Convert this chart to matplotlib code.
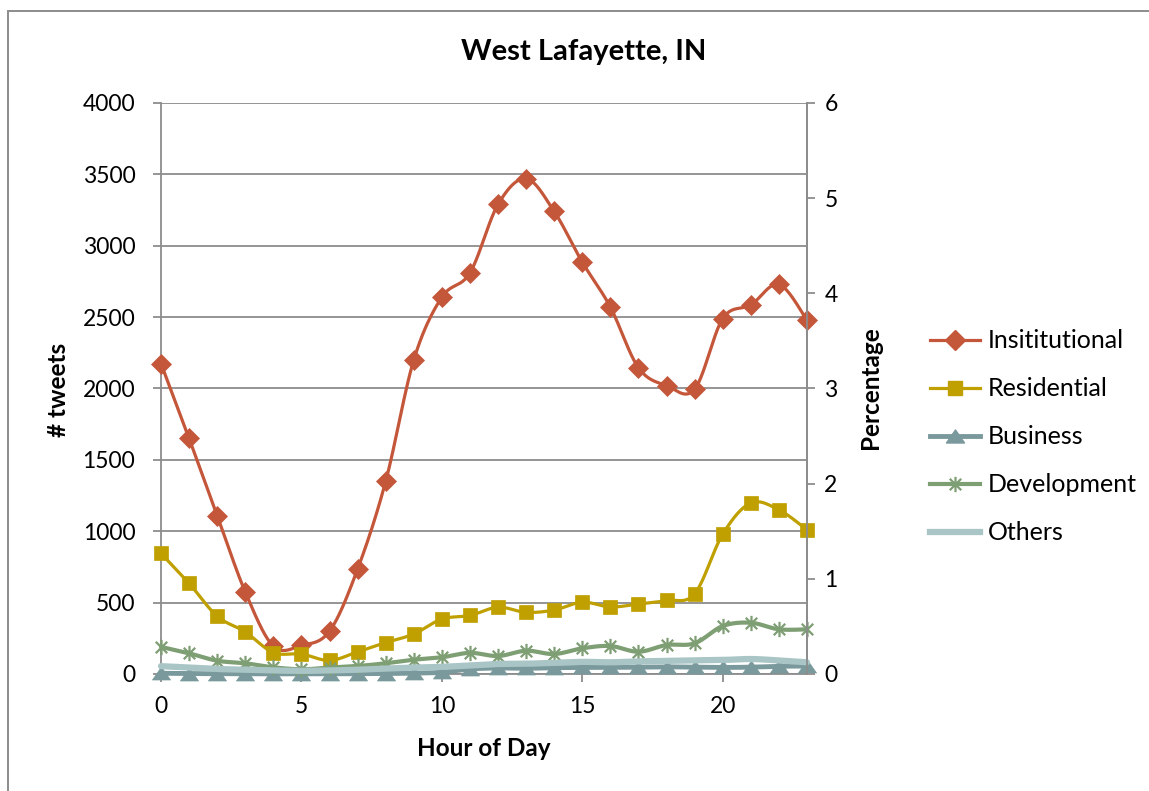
import numpy as np
import matplotlib
matplotlib.use("Agg")
import matplotlib.pyplot as plt
from matplotlib.lines import Line2D
from matplotlib.path import Path
from matplotlib.patches import Rectangle

plt.rcParams['font.family'] = ['Lato', 'DejaVu Sans']

# ---- data -------------------------------------------------------------
hours = list(range(24))
institutional = [2175, 1650, 1110, 575, 195, 200, 300, 735, 1350, 2200, 2640, 2810,
                 3290, 3470, 3240, 2885, 2570, 2145, 2020, 1995, 2490, 2585, 2730, 2480]
residential = [845, 635, 405, 295, 150, 140, 95, 155, 220, 280, 385, 410,
               468, 432, 448, 503, 470, 490, 515, 562, 980, 1198, 1150, 1010]
business = [5, 3, 2, 1, 1, 1, 1, 2, 3, 6, 12, 35,
            42, 40, 44, 46, 46, 48, 50, 48, 46, 48, 54, 56]
development = [190, 145, 93, 75, 47, 33, 45, 56, 75, 100, 117, 148,
               126, 163, 140, 180, 196, 156, 203, 215, 336, 359, 313, 313]
others = [55, 45, 35, 30, 25, 22, 25, 30, 38, 45, 50, 60,
          70, 72, 78, 85, 82, 88, 92, 95, 98, 105, 95, 82]

series_names = ['Insititutional', 'Residential', 'Business', 'Development', 'Others']
left_ticks = [0, 500, 1000, 1500, 2000, 2500, 3000, 3500, 4000]
right_ticks = [0, 1, 2, 3, 4, 5, 6]
x_ticks = [0, 5, 10, 15, 20]


def smooth(x, y, n=24):
    """Bezier smoothing with Catmull-Rom style control points."""
    x = np.asarray(x, float)
    y = np.asarray(y, float)
    px = np.concatenate([[x[0]], x, [x[-1]]])
    py = np.concatenate([[y[0]], y, [y[-1]]])
    t = np.linspace(0, 1, n)[:, None]
    xs, ys = [], []
    for i in range(1, len(px) - 2):
        p0 = np.array([px[i], py[i]])
        p3 = np.array([px[i + 1], py[i + 1]])
        c1 = p0 + (np.array([px[i + 1], py[i + 1]]) - np.array([px[i - 1], py[i - 1]])) / 6
        c2 = p3 - (np.array([px[i + 2], py[i + 2]]) - np.array([px[i], py[i]])) / 6
        b = ((1 - t) ** 3) * p0 + 3 * ((1 - t) ** 2) * t * c1 + 3 * (1 - t) * t ** 2 * c2 + t ** 3 * p3
        if i > 1:
            b = b[1:]
        xs.append(b[:, 0])
        ys.append(b[:, 1])
    return np.concatenate(xs), np.concatenate(ys)


# asterisk marker: vertical stroke plus an X
star_path = Path(
    [(0, -1), (0, 1), (-0.75, -0.75), (0.75, 0.75), (-0.75, 0.75), (0.75, -0.75)],
    [Path.MOVETO, Path.LINETO, Path.MOVETO, Path.LINETO, Path.MOVETO, Path.LINETO])
# wide, squat triangle
tri_path = Path([(0, 0.72), (-1, -0.72), (1, -0.72), (0, 0.72)],
                [Path.MOVETO, Path.LINETO, Path.LINETO, Path.CLOSEPOLY])

styles = [
    dict(color='#C4563A', lw=2.3, marker='D', ms=10),
    dict(color='#BFA000', lw=2.3, marker='s', ms=10.5),
    dict(color='#7A999C', lw=3.5, marker=tri_path, ms=13),
    dict(color='#7E9E74', lw=3.0, marker=star_path, ms=11),
    dict(color='#A9C5C6', lw=4.5, marker=None, ms=0),
]
data = [institutional, residential, business, development, others]

W, H = 1149, 791
fig = plt.figure(figsize=(W / 100, H / 100), dpi=100)
fig.patch.set_facecolor('white')

# outer chart frame
fig.add_artist(Rectangle((8 / W, -0.05), 1.2, 1 - 11 / H + 0.05, transform=fig.transFigure,
                         fill=False, edgecolor='#8C8C8C', lw=1.4))

ax = fig.add_axes([161 / W, (H - 674) / H, 646 / W, 571 / H])
grid_col = '#8C8C8C'
tick_fs = 16.5
label_fs = 17.5

for vals, st in zip(data, styles):
    sx, sy = smooth(hours, vals)
    ax.plot(sx, sy, color=st['color'], lw=st['lw'], solid_capstyle='round',
            solid_joinstyle='round', zorder=3, clip_on=False)
    if st['marker'] is star_path:
        ax.plot(hours, vals, linestyle='none', marker=star_path, ms=st['ms'],
                markeredgecolor=st['color'], markerfacecolor='none', mew=1.6,
                zorder=3, clip_on=False)
    elif st['marker'] is not None:
        ax.plot(hours, vals, linestyle='none', marker=st['marker'], ms=st['ms'],
                markerfacecolor=st['color'], markeredgecolor=st['color'], mew=0.5,
                zorder=3, clip_on=False)

ax.set_xlim(0, 23)
ax.set_ylim(0, 4000)
ax.set_yticks(left_ticks)
ax.set_xticks(x_ticks)
ax.yaxis.grid(True, color=grid_col, lw=1.3)
ax.set_axisbelow(True)
ax.spines['top'].set_visible(False)
for side in ['left', 'bottom', 'right']:
    ax.spines[side].set_color(grid_col)
    ax.spines[side].set_linewidth(1.3)
ax.tick_params(axis='y', direction='out', length=6, width=1.3, color=grid_col,
               labelsize=tick_fs, pad=12.5)
ax.tick_params(axis='x', direction='out', length=6, width=1.3, color=grid_col,
               labelsize=tick_fs, pad=10)

ax2 = ax.twinx()
ax2.set_ylim(0, 6)
ax2.set_yticks(right_ticks)
for side in ['top', 'left', 'bottom']:
    ax2.spines[side].set_visible(False)
ax2.spines['right'].set_color(grid_col)
ax2.spines['right'].set_linewidth(1.3)
ax2.tick_params(axis='y', direction='out', length=6, width=1.3, color=grid_col,
                labelsize=tick_fs, pad=6.5)

# axis titles and chart title
fig.text(58 / W, 1 - 390 / H, '# tweets', rotation=90, ha='center', va='center',
         fontsize=label_fs, fontweight='bold')
fig.text(870 / W, 1 - 388 / H, 'Percentage', rotation=90, ha='center', va='center',
         fontsize=label_fs, fontweight='bold')
fig.text(484 / W, 1 - 749 / H, 'Hour of Day', ha='center', va='center',
         fontsize=label_fs, fontweight='bold')
fig.text(584 / W, 1 - 52 / H, 'West Lafayette, IN', ha='center', va='center',
         fontsize=21, fontweight='bold')

handles = []
for st in styles:
    if st['marker'] is star_path:
        h = Line2D([], [], color=st['color'], lw=st['lw'], marker=star_path, ms=st['ms'],
                   markeredgecolor=st['color'], markerfacecolor='none', mew=1.6)
    elif st['marker'] is None:
        h = Line2D([], [], color=st['color'], lw=st['lw'])
    else:
        h = Line2D([], [], color=st['color'], lw=st['lw'], marker=st['marker'], ms=st['ms'],
                   markerfacecolor=st['color'], markeredgecolor=st['color'])
    handles.append(h)

fig.legend(handles, series_names, loc='center left',
           bbox_to_anchor=(917 / W, 1 - 437 / H), frameon=False, fontsize=18,
           handlelength=2.0, handletextpad=0.32, labelspacing=1.0, borderpad=0)

fig.savefig('out.png', dpi=100)
